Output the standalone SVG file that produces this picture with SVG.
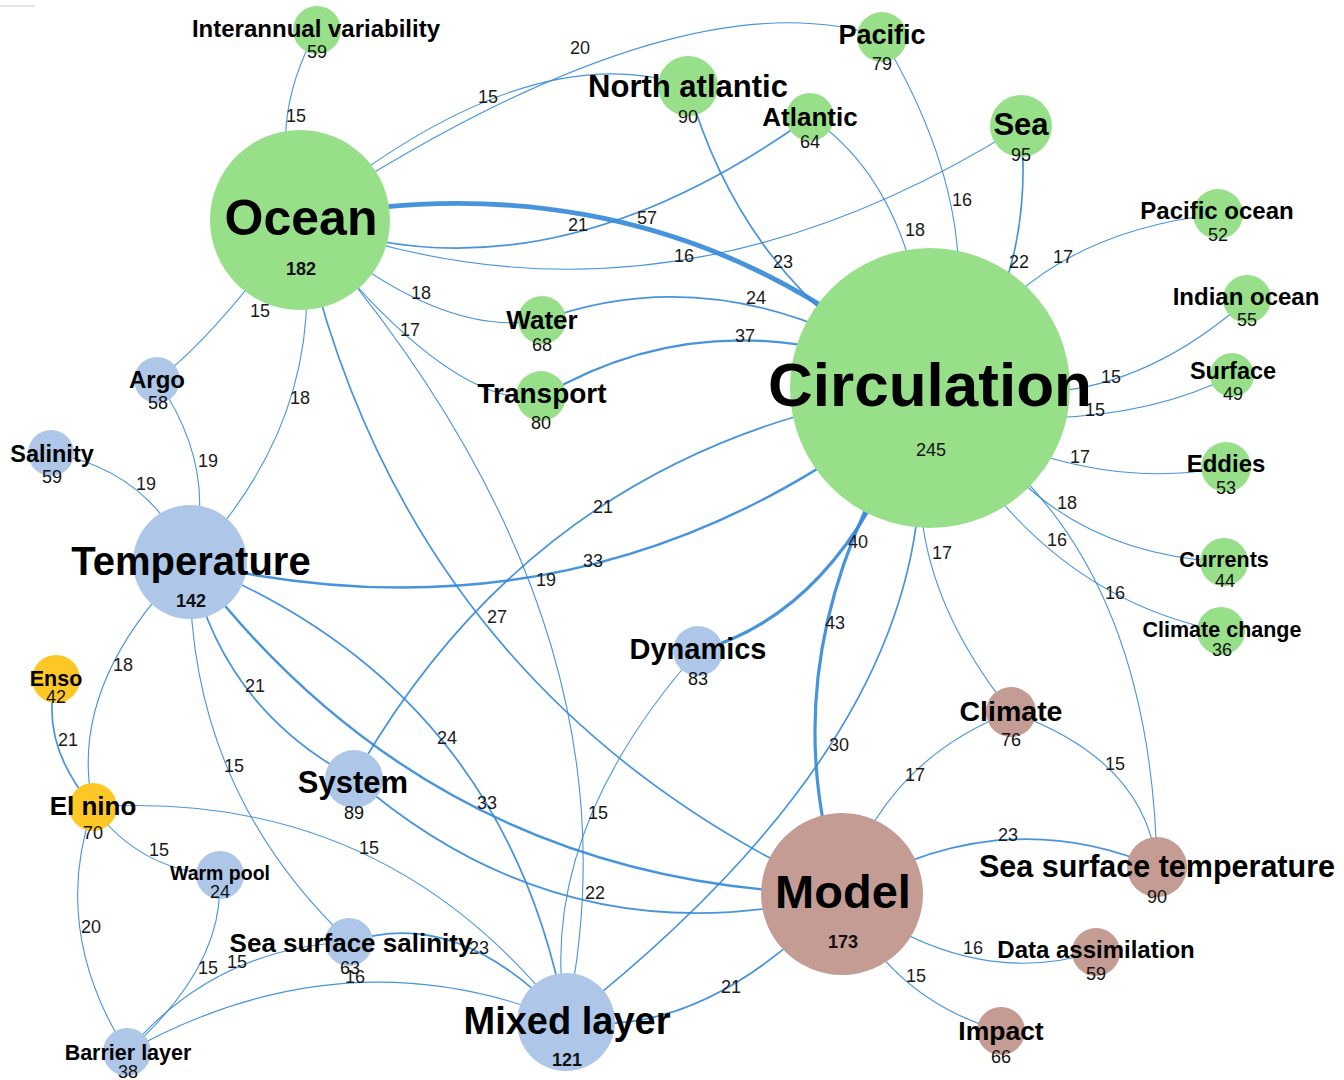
<svg xmlns="http://www.w3.org/2000/svg" width="1344" height="1080" viewBox="0 0 1344 1080">
  <style>
    .lk { fill: none; stroke: #3388d8; stroke-opacity: 0.9; stroke-linecap: round; }
    .w1 { stroke-width: 1.1; }
    .w2 { stroke-width: 1.7; }
    .w3 { stroke-width: 2.4; }
    .w4 { stroke-width: 3.2; }
    .w5 { stroke-width: 4.8; }
    .el { font-family: "Liberation Sans", Arial, sans-serif; font-size: 18px; fill: #1a1a1a; text-anchor: middle; }
    .nl { font-family: "Liberation Sans", Arial, sans-serif; font-weight: bold; fill: #000; text-anchor: middle; }
    .nc { font-family: "Liberation Sans", Arial, sans-serif; font-size: 18px; fill: #111; text-anchor: middle; }
    .big { font-weight: bold; }
    .g { fill: #98df8a; }
    .b { fill: #aec7e8; }
    .y { fill: #fdc826; }
    .r { fill: #c49c94; }
  </style>
  <rect width="1344" height="1080" fill="#ffffff"/>
  <rect x="0" y="5" width="35" height="2" fill="#e4e4e4"/>

  <!-- connectors -->
  <g id="links">
    <path class="lk w1" d="M300,219 Q264,125 317,30"/>
    <path class="lk w1" d="M300,219 Q680,-30 882,37"/>
    <path class="lk w1" d="M300,219 Q526,32 688,86"/>
    <path class="lk w5" d="M300,219 C450,190 700,180 930,388"/>
    <path class="lk w2" d="M300,219 Q540,310 810,117"/>
    <path class="lk w1" d="M300,219 Q660,354 1021,126"/>
    <path class="lk w1" d="M300,219 Q439,340 542,320"/>
    <path class="lk w1" d="M300,219 Q450,410 541,397"/>
    <path class="lk w1" d="M300,219 Q653,620 566,1021"/>
    <path class="lk w1" d="M300,219 Q215,337 157,380"/>
    <path class="lk w1" d="M300,219 Q335,410 190,562"/>
    <path class="lk w2" d="M300,219 Q401,693 842,894"/>
    <path class="lk w2" d="M688,86 Q745,288 930,388"/>
    <path class="lk w1" d="M810,117 Q920,190 930,388"/>
    <path class="lk w1" d="M882,37 Q966,178 958,300"/>
    <path class="lk w2" d="M1021,126 Q1030,220 1000,300"/>
    <path class="lk w1" d="M1010,300 Q1086,229 1218,214"/>
    <path class="lk w1" d="M1050,392 Q1152,384 1247,300"/>
    <path class="lk w1" d="M1050,418 Q1158,414 1233,375"/>
    <path class="lk w1" d="M1040,455 Q1137,485 1226,467"/>
    <path class="lk w1" d="M1020,480 Q1098,555 1224,562"/>
    <path class="lk w1" d="M1000,500 Q1090,605 1221,631"/>
    <path class="lk w1" d="M1020,475 Q1152,609 1157,867"/>
    <path class="lk w2" d="M542,320 Q689,267 840,335"/>
    <path class="lk w3" d="M541,397 Q675,317 830,350"/>
    <path class="lk w2" d="M354,778 Q545,440 930,388"/>
    <path class="lk w3" d="M190,562 Q603,659 930,388"/>
    <path class="lk w4" d="M698,651 Q811,620 880,490"/>
    <path class="lk w4" d="M880,480 Q773,687 842,894"/>
    <path class="lk w2" d="M920,480 Q911,750 566,1021"/>
    <path class="lk w1" d="M920,480 Q918,596 1011,712"/>
    <path class="lk w1" d="M842,894 Q882,762 1011,712"/>
    <path class="lk w2" d="M842,894 Q1000,800 1157,867"/>
    <path class="lk w1" d="M1011,712 Q1146,760 1157,867"/>
    <path class="lk w1" d="M842,894 Q969,991 1096,952"/>
    <path class="lk w1" d="M842,894 Q890,999 1001,1031"/>
    <path class="lk w2" d="M842,894 Q704,1042 566,1021"/>
    <path class="lk w3" d="M190,562 Q435,887 842,894"/>
    <path class="lk w2" d="M190,562 Q505,688 566,1021"/>
    <path class="lk w2" d="M354,778 Q568,964 842,894"/>
    <path class="lk w2" d="M190,562 Q222,708 354,778"/>
    <path class="lk w1" d="M190,562 Q186,787 350,942"/>
    <path class="lk w1" d="M190,562 Q66,684 93,807"/>
    <path class="lk w1" d="M157,380 Q220,471 190,562"/>
    <path class="lk w1" d="M52,453 Q150,471 190,562"/>
    <path class="lk w2" d="M56,679 Q39,743 93,807"/>
    <path class="lk w1" d="M93,807 Q140,871 219,875"/>
    <path class="lk w1" d="M93,807 Q50,930 127,1052"/>
    <path class="lk w1" d="M93,807 Q386,788 566,1021"/>
    <path class="lk w1" d="M219,875 Q227,964 127,1052"/>
    <path class="lk w1" d="M350,942 Q214,948 127,1052"/>
    <path class="lk w1" d="M127,1052 Q346,930 566,1021"/>
    <path class="lk w2" d="M350,942 Q458,905 566,1021"/>
    <path class="lk w1" d="M698,651 Q534,836 566,1021"/>
  </g>

  <!-- nodes -->
  <g id="nodes">
    <g id="n-interannual-variability"><circle class="g" cx="317" cy="30" r="24"/><text class="nl" x="316" y="37" font-size="24">Interannual variability</text><text class="nc" x="317" y="58">59</text></g>
    <g id="n-ocean"><circle class="g" cx="300" cy="220" r="90"/><text class="nl" x="301" y="235" font-size="50">Ocean</text><text class="nc big" x="301" y="275">182</text></g>
    <g id="n-pacific"><circle class="g" cx="882" cy="37" r="25"/><text class="nl" x="882" y="44" font-size="27">Pacific</text><text class="nc" x="882" y="70">79</text></g>
    <g id="n-north-atlantic"><circle class="g" cx="688" cy="86" r="30"/><text class="nl" x="688" y="97" font-size="31">North atlantic</text><text class="nc" x="688" y="123">90</text></g>
    <g id="n-atlantic"><circle class="g" cx="810" cy="117" r="24"/><text class="nl" x="810" y="126" font-size="26">Atlantic</text><text class="nc" x="810" y="148">64</text></g>
    <g id="n-sea"><circle class="g" cx="1021" cy="126" r="31"/><text class="nl" x="1021" y="135" font-size="31">Sea</text><text class="nc" x="1021" y="161">95</text></g>
    <g id="n-pacific-ocean"><circle class="g" cx="1218" cy="214" r="25"/><text class="nl" x="1217" y="219" font-size="24">Pacific ocean</text><text class="nc" x="1218" y="241">52</text></g>
    <g id="n-indian-ocean"><circle class="g" cx="1247" cy="299" r="24"/><text class="nl" x="1246" y="305" font-size="24">Indian ocean</text><text class="nc" x="1247" y="326">55</text></g>
    <g id="n-water"><circle class="g" cx="542" cy="320" r="24"/><text class="nl" x="542" y="329" font-size="26">Water</text><text class="nc" x="542" y="351">68</text></g>
    <g id="n-transport"><circle class="g" cx="541" cy="396" r="25"/><text class="nl" x="542" y="403" font-size="28">Transport</text><text class="nc" x="541" y="429">80</text></g>
    <g id="n-circulation"><circle class="g" cx="930" cy="388" r="140"/><text class="nl" x="930" y="406" font-size="62">Circulation</text><text class="nc" x="931" y="456">245</text></g>
    <g id="n-surface"><circle class="g" cx="1232" cy="375" r="22"/><text class="nl" x="1233" y="379" font-size="23.5">Surface</text><text class="nc" x="1233" y="400">49</text></g>
    <g id="n-eddies"><circle class="g" cx="1226" cy="467" r="25"/><text class="nl" x="1226" y="472" font-size="24">Eddies</text><text class="nc" x="1226" y="494">53</text></g>
    <g id="n-currents"><circle class="g" cx="1224" cy="562" r="24"/><text class="nl" x="1224" y="567" font-size="21.5">Currents</text><text class="nc" x="1225" y="587">44</text></g>
    <g id="n-climate-change"><circle class="g" cx="1221" cy="631" r="24"/><text class="nl" x="1222" y="637" font-size="21.5">Climate change</text><text class="nc" x="1222" y="656">36</text></g>
    <g id="n-argo"><circle class="b" cx="157" cy="380" r="23"/><text class="nl" x="157" y="388" font-size="24">Argo</text><text class="nc" x="158" y="409">58</text></g>
    <g id="n-salinity"><circle class="b" cx="51" cy="453" r="23"/><text class="nl" x="52" y="462" font-size="23.5">Salinity</text><text class="nc" x="52" y="483">59</text></g>
    <g id="n-temperature"><circle class="b" cx="190" cy="562" r="57"/><text class="nl" x="191" y="575" font-size="40">Temperature</text><text class="nc big" x="191" y="607">142</text></g>
    <g id="n-system"><circle class="b" cx="354" cy="779" r="29"/><text class="nl" x="353" y="793" font-size="31">System</text><text class="nc" x="354" y="819">89</text></g>
    <g id="n-dynamics"><circle class="b" cx="698" cy="651" r="25"/><text class="nl" x="698" y="659" font-size="29">Dynamics</text><text class="nc" x="698" y="685">83</text></g>
    <g id="n-warm-pool"><circle class="b" cx="220" cy="875" r="24"/><text class="nl" x="220" y="880" font-size="19.5">Warm pool</text><text class="nc" x="220" y="898">24</text></g>
    <g id="n-sea-surface-salinity"><circle class="b" cx="349" cy="942" r="24"/><text class="nl" x="351" y="952" font-size="26">Sea surface salinity</text><text class="nc" x="350" y="974">63</text></g>
    <g id="n-barrier-layer"><circle class="b" cx="127" cy="1052" r="24"/><text class="nl" x="128" y="1060" font-size="21.5">Barrier layer</text><text class="nc" x="128" y="1078">38</text></g>
    <g id="n-mixed-layer"><circle class="b" cx="566" cy="1022" r="49"/><text class="nl" x="567" y="1034" font-size="38">Mixed layer</text><text class="nc big" x="567" y="1066">121</text></g>
    <g id="n-enso"><circle class="y" cx="56" cy="679" r="24"/><text class="nl" x="56" y="686" font-size="21.5">Enso</text><text class="nc" x="56" y="703">42</text></g>
    <g id="n-el-nino"><circle class="y" cx="93" cy="807" r="24"/><text class="nl" x="93" y="815" font-size="26">El nino</text><text class="nc" x="93" y="839">70</text></g>
    <g id="n-model"><circle class="r" cx="842" cy="894" r="81"/><text class="nl" x="843" y="908" font-size="47">Model</text><text class="nc big" x="843" y="948">173</text></g>
    <g id="n-climate"><circle class="r" cx="1011" cy="712" r="25"/><text class="nl" x="1011" y="721" font-size="28.5">Climate</text><text class="nc" x="1011" y="746">76</text></g>
    <g id="n-sea-surface-temperature"><circle class="r" cx="1157" cy="867" r="30"/><text class="nl" x="1157" y="877" font-size="30.5">Sea surface temperature</text><text class="nc" x="1157" y="903">90</text></g>
    <g id="n-data-assimilation"><circle class="r" cx="1096" cy="952" r="24"/><text class="nl" x="1096" y="958" font-size="24">Data assimilation</text><text class="nc" x="1096" y="980">59</text></g>
    <g id="n-impact"><circle class="r" cx="1001" cy="1031" r="24"/><text class="nl" x="1001" y="1040" font-size="26.5">Impact</text><text class="nc" x="1001" y="1063">66</text></g>
  </g>

  <!-- connector weights -->
  <g id="link-labels">
    <text class="el" x="296" y="122">15</text>
    <text class="el" x="580" y="54">20</text>
    <text class="el" x="488" y="103">15</text>
    <text class="el" x="647" y="224">57</text>
    <text class="el" x="578" y="231">21</text>
    <text class="el" x="684" y="262">16</text>
    <text class="el" x="421" y="299">18</text>
    <text class="el" x="410" y="336">17</text>
    <text class="el" x="546" y="586">19</text>
    <text class="el" x="260" y="317">15</text>
    <text class="el" x="300" y="404">18</text>
    <text class="el" x="497" y="623">27</text>
    <text class="el" x="783" y="268">23</text>
    <text class="el" x="915" y="236">18</text>
    <text class="el" x="962" y="206">16</text>
    <text class="el" x="1019" y="268">22</text>
    <text class="el" x="1063" y="263">17</text>
    <text class="el" x="1111" y="383">15</text>
    <text class="el" x="1095" y="416">15</text>
    <text class="el" x="1080" y="463">17</text>
    <text class="el" x="1067" y="509">18</text>
    <text class="el" x="1057" y="546">16</text>
    <text class="el" x="1115" y="599">16</text>
    <text class="el" x="756" y="304">24</text>
    <text class="el" x="745" y="342">37</text>
    <text class="el" x="603" y="513">21</text>
    <text class="el" x="593" y="567">33</text>
    <text class="el" x="858" y="548">40</text>
    <text class="el" x="835" y="629">43</text>
    <text class="el" x="839" y="751">30</text>
    <text class="el" x="942" y="559">17</text>
    <text class="el" x="915" y="781">17</text>
    <text class="el" x="1008" y="841">23</text>
    <text class="el" x="1115" y="770">15</text>
    <text class="el" x="973" y="954">16</text>
    <text class="el" x="916" y="982">15</text>
    <text class="el" x="731" y="993">21</text>
    <text class="el" x="487" y="809">33</text>
    <text class="el" x="447" y="744">24</text>
    <text class="el" x="595" y="899">22</text>
    <text class="el" x="255" y="692">21</text>
    <text class="el" x="234" y="772">15</text>
    <text class="el" x="123" y="671">18</text>
    <text class="el" x="208" y="467">19</text>
    <text class="el" x="146" y="490">19</text>
    <text class="el" x="68" y="746">21</text>
    <text class="el" x="159" y="856">15</text>
    <text class="el" x="91" y="933">20</text>
    <text class="el" x="369" y="854">15</text>
    <text class="el" x="208" y="974">15</text>
    <text class="el" x="237" y="968">15</text>
    <text class="el" x="355" y="983">16</text>
    <text class="el" x="479" y="954">23</text>
    <text class="el" x="598" y="819">15</text>
  </g>
</svg>
